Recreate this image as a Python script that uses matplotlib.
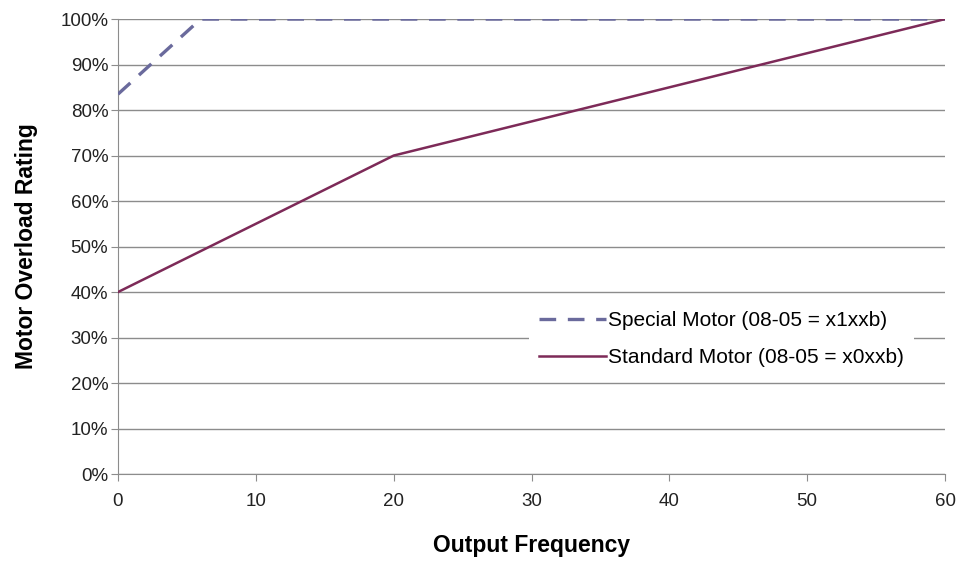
import matplotlib.pyplot as plt
from matplotlib.ticker import PercentFormatter

plt.rcParams['font.family'] = ['Liberation Sans', 'DejaVu Sans']

# Output frequency (Hz) vs overload rating (%)
special_freq = [0, 6, 60]
special_rating = [83.5, 100, 100]
standard_freq = [0, 20, 60]
standard_rating = [40, 70, 100]

GRID = "#8c8c8c"

fig = plt.figure(figsize=(9.57, 5.61), dpi=100)
ax = fig.add_axes([0.1233, 0.155, 0.8642, 0.811])

ax.plot(special_freq, special_rating, color="#6a6a9c", lw=2.4,
        linestyle=(0, (5, 3.5)), label="Special Motor (08-05 = x1xxb)", zorder=3)
ax.plot(standard_freq, standard_rating, color="#7d2a58", lw=1.8,
        label="Standard Motor (08-05 = x0xxb)", zorder=3)

ax.set_xlim(0, 60)
ax.set_ylim(0, 100)
ax.set_xticks(range(0, 61, 10))
ax.set_yticks(range(0, 101, 10))
ax.yaxis.set_major_formatter(PercentFormatter(decimals=0))
ax.grid(axis="y", color=GRID, lw=1)
ax.set_axisbelow(True)

for side in ("top", "right"):
    ax.spines[side].set_visible(False)
for side in ("left", "bottom"):
    ax.spines[side].set_color(GRID)
ax.tick_params(direction="out", length=5, color=GRID, labelsize=13.5,
               labelcolor="#222222", pad=2)
ax.tick_params(axis="x", pad=9)

ax.set_xlabel("Output Frequency", fontsize=16.5, fontweight="bold", labelpad=17)
ax.set_ylabel("Motor Overload Rating", fontsize=16.5, fontweight="bold", labelpad=16)

leg = ax.legend(loc="upper left", bbox_to_anchor=(0.497, 0.381), fontsize=15,
                frameon=True, facecolor="white", edgecolor="none", framealpha=1,
                handlelength=3.2, handletextpad=0.1, labelspacing=0.85,
                borderaxespad=0, borderpad=0.5)
leg.get_frame().set_boxstyle("square", pad=0)

fig.savefig("out.png", dpi=100)
